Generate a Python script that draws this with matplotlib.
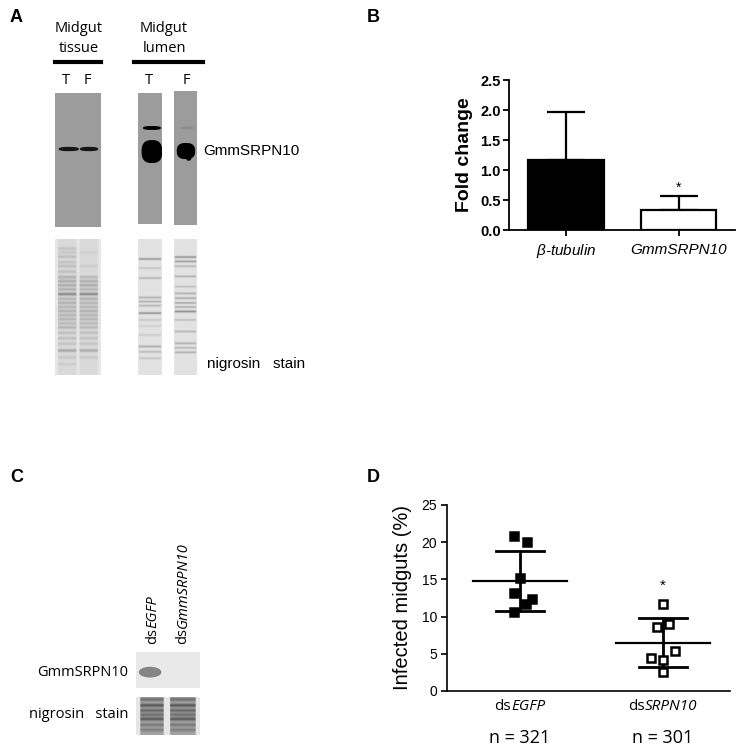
import matplotlib
matplotlib.use("Agg")
import matplotlib.pyplot as plt
from matplotlib.patches import Ellipse, Polygon
from matplotlib.lines import Line2D
import numpy as np

# ---------------- data ----------------
# Panel B: qPCR fold change
b_categories = [r"$\mathit{\beta}$-tubulin", "GmmSRPN10"]
b_values = [1.17, 0.33]
b_err_upper = [0.80, 0.24]
b_colors = ["black", "white"]
b_ticks = [0.0, 0.5, 1.0, 1.5, 2.0, 2.5]

# Panel D: infected midguts (%)
d_group_prefix = ["ds", "ds"]
d_group_names = ["EGFP", "SRPN10"]
d_counts = ["n = 321", "n = 301"]
d_egfp = [20.8, 20.0, 15.2, 13.2, 11.7, 12.4, 10.6]
d_egfp_jitter = [-0.04, 0.05, 0.0, -0.04, 0.04, 0.085, -0.04]
d_srpn = [11.7, 8.6, 9.0, 5.4, 4.4, 4.2, 2.5]
d_srpn_jitter = [0.0, -0.04, 0.04, 0.085, -0.08, 0.0, 0.0]
d_means = [14.8, 6.5]
d_sd_upper = [18.8, 9.8]
d_sd_lower = [10.8, 3.2]
d_ticks = [0, 5, 10, 15, 20, 25]

# Panel A: western blot bands (lane centre, position, width, height)
a_tissue_bands = [(0.30, 0.418, 0.44, 0.032), (0.74, 0.418, 0.40, 0.032)]
a_lumenT_bands = [(0.58, 0.267, 0.75, 0.03), (0.58, 0.447, 0.86, 0.175)]
a_lumenF_bands = [(0.52, 0.448, 0.80, 0.12), (0.64, 0.50, 0.22, 0.04)]
a_lumenF_faint = [(0.55, 0.276, 0.5, 0.012)]

# Panel A: nigrosin stain bands (position, intensity)
nig_tissue_T = [(0.07, 0.25), (0.10, 0.2), (0.13, 0.3), (0.17, 0.25), (0.20, 0.3), (0.24, 0.3),
                (0.28, 0.45), (0.31, 0.5), (0.34, 0.5), (0.37, 0.45), (0.405, 0.85), (0.44, 0.4),
                (0.47, 0.45), (0.50, 0.4), (0.53, 0.45), (0.56, 0.4), (0.59, 0.4), (0.62, 0.35),
                (0.65, 0.4), (0.69, 0.3), (0.73, 0.3), (0.77, 0.25), (0.82, 0.55), (0.87, 0.2), (0.92, 0.15)]
nig_tissue_F = [(0.10, 0.1), (0.20, 0.15), (0.28, 0.35), (0.31, 0.45), (0.34, 0.5), (0.37, 0.4),
                (0.405, 0.85), (0.44, 0.45), (0.47, 0.4), (0.50, 0.4), (0.53, 0.45), (0.56, 0.4),
                (0.59, 0.4), (0.62, 0.35), (0.65, 0.35), (0.69, 0.3), (0.73, 0.3), (0.77, 0.25),
                (0.82, 0.5), (0.87, 0.2)]
nig_lumen_T = [(0.147, 0.75), (0.214, 0.3), (0.287, 0.45), (0.43, 0.5), (0.46, 0.5), (0.49, 0.45),
               (0.545, 0.8), (0.595, 0.3), (0.64, 0.2), (0.705, 0.25), (0.79, 0.55), (0.83, 0.4), (0.877, 0.3)]
nig_lumen_F = [(0.133, 0.8), (0.165, 0.7), (0.20, 0.45), (0.275, 0.5), (0.35, 0.35), (0.40, 0.5),
               (0.435, 0.55), (0.47, 0.55), (0.50, 0.5), (0.533, 0.85), (0.595, 0.35), (0.68, 0.45),
               (0.767, 0.5), (0.80, 0.45), (0.833, 0.5)]

# Panel C: western + nigrosin
c_lane_prefix = ["ds", "ds"]
c_lane_names = ["EGFP", "GmmSRPN10"]
c_band = [(0.22, 0.56, 0.33, 0.26)]
c_nig_bands = [(0.09, 0.6), (0.24, 0.9), (0.37, 0.7), (0.48, 0.6), (0.59, 0.85), (0.74, 0.5), (0.87, 0.4)]
c_nig_lane_x = [(0.06, 0.44), (0.53, 0.94)]

# ---------------- figure ----------------
W, H = 740, 746
plt.rcParams["mathtext.fontset"] = "custom"
plt.rcParams["mathtext.rm"] = "Liberation Sans"
plt.rcParams["mathtext.it"] = "Liberation Sans:italic"
plt.rcParams["mathtext.bf"] = "Liberation Sans:bold"
plt.rcParams["font.family"] = ["Liberation Sans", "DejaVu Sans"]

fig = plt.figure(figsize=(W / 100, H / 100), dpi=100)
fig.patch.set_facecolor("white")


def px_axes(x0, y0, x1, y1):
    return fig.add_axes([x0 / W, 1 - y1 / H, (x1 - x0) / W, (y1 - y0) / H])


def T(x, y, s, **kw):
    return fig.text(x / W, 1 - y / H, s, **kw)


def hline_px(x0, x1, y, lw=3):
    fig.add_artist(Line2D([x0 / W, x1 / W], [1 - y / H, 1 - y / H], color="black", lw=lw,
                          transform=fig.transFigure))


def strip(box, face):
    ax = px_axes(*box)
    ax.set_xlim(0, 1)
    ax.set_ylim(1, 0)
    ax.set_facecolor(face)
    ax.set_xticks([])
    ax.set_yticks([])
    for s in ax.spines.values():
        s.set_visible(False)
    return ax


def blob(ax, cx, cy, w, h, color, n=3.5):
    """Rounded band shape (superellipse)."""
    t = np.linspace(0, 2 * np.pi, 120)
    c, s = np.cos(t), np.sin(t)
    xs = cx + w / 2 * np.sign(c) * np.abs(c) ** (2 / n)
    ys = cy + h / 2 * np.sign(s) * np.abs(s) ** (2 / n)
    ax.add_patch(Polygon(np.column_stack([xs, ys]), closed=True, color=color, lw=0))


def mixed_text(x, y, prefix, name, rotation=0, **kw):
    """Draw 'prefix' upright followed by 'name' in italic, as one visual label."""
    r = fig.canvas.get_renderer()
    if rotation == 0:
        t1 = T(x, y, prefix, ha="left", va="center", **kw)
        t2 = T(x, y, name, ha="left", va="center", style="italic", **kw)
        w1 = t1.get_window_extent(r).width
        w2 = t2.get_window_extent(r).width
        x0 = x - (w1 + w2) / 2
        t1.set_position((x0 / W, 1 - y / H))
        t2.set_position(((x0 + w1) / W, 1 - y / H))
    else:
        t1 = T(x, y, prefix, ha="center", va="bottom", rotation=90, **kw)
        h1 = t1.get_window_extent(r).height
        T(x, y - h1, name, ha="center", va="bottom", rotation=90, style="italic", **kw)


# Panel letters
for lx, ly, lab in [(10, 18, "A"), (367, 18, "B"), (10, 478, "C"), (367, 478, "D")]:
    T(lx, ly, lab, fontsize=13, fontweight="bold", ha="left", va="center")

# ---------------- Panel A ----------------
hfam = ["Open Sans", "DejaVu Sans"]
T(79, 29, "Midgut", fontsize=10.5, ha="center", va="center", family=hfam)
T(79, 49, "tissue", fontsize=10.5, ha="center", va="center", family=hfam)
T(164, 28, "Midgut", fontsize=10.5, ha="center", va="center", family=hfam)
T(164, 48, "lumen", fontsize=10.5, ha="center", va="center", family=hfam)
hline_px(55, 101, 62)
hline_px(134, 203, 62)
for x, s in [(66, "T"), (87, "F"), (149, "T"), (186, "F")]:
    T(x, 80, s, fontsize=10.5, ha="center", va="center", family=hfam)

wb_gray = "#9c9c9c"
ax = strip((55, 93, 101, 227), wb_gray)
for cx, cy, w, h in a_tissue_bands:
    blob(ax, cx, cy, w, h, "#151515", n=2.5)
ax = strip((138, 93, 162, 224), wb_gray)
for cx, cy, w, h in a_lumenT_bands:
    blob(ax, cx, cy, w, h, "black", n=2.6)
ax = strip((174, 91, 197, 225), wb_gray)
for cx, cy, w, h in a_lumenF_faint:
    ax.add_patch(Ellipse((cx, cy), w, h, color="#8c8c8c"))
for cx, cy, w, h in a_lumenF_bands:
    blob(ax, cx, cy, w, h, "black", n=2.6)
T(203, 151, "GmmSRPN10", fontsize=11, ha="left", va="center")


def lane_image(ax, lanes, bg, smear, sigma=0.006, dark=0.55):
    """Render nigrosin lanes: lanes = list of (x0, x1, bands)."""
    ny, nx = 300, 60
    yy = (np.arange(ny) + 0.5) / ny
    xx = (np.arange(nx) + 0.5) / nx
    img = np.full((ny, nx), bg)
    for x0, x1, bands in lanes:
        prof = np.zeros(ny)
        for y, a in bands:
            prof += a * np.exp(-0.5 * ((yy - y) / sigma) ** 2)
        prof = smear + dark * np.clip(prof, 0, 1.2)
        mask = ((xx >= x0) & (xx <= x1)).astype(float)
        img -= np.outer(prof, mask) * 0.75
    ax.imshow(np.clip(img, 0, 1), cmap="gray", vmin=0, vmax=1, extent=(0, 1, 1, 0),
              aspect="auto", interpolation="bilinear")


nig_bg = 0.90
ax = strip((55, 239, 101, 375), "#e6e6e6")
lane_image(ax, [(0.06, 0.47, nig_tissue_T), (0.53, 0.94, nig_tissue_F)], nig_bg, 0.06, sigma=0.008, dark=0.5)
ax = strip((138, 239, 162, 375), "#e6e6e6")
lane_image(ax, [(0.04, 0.96, nig_lumen_T)], nig_bg, 0.02, sigma=0.005)
ax = strip((174, 239, 197, 375), "#e6e6e6")
lane_image(ax, [(0.04, 0.96, nig_lumen_F)], nig_bg, 0.02, sigma=0.005)
T(207, 364, "nigrosin   stain", fontsize=11, ha="left", va="center")

# ---------------- Panel B ----------------
axb = px_axes(509, 80, 735, 230)
xb = np.arange(len(b_values))
axb.bar(xb, b_values, width=0.675, color=b_colors, edgecolor="black", linewidth=1.6, zorder=2)
axb.errorbar(xb, b_values, yerr=[[0, 0], b_err_upper], fmt="none", ecolor="black",
             elinewidth=1.6, capsize=13.5, capthick=1.6, zorder=1)
axb.text(xb[1], b_values[1] + b_err_upper[1] + 0.02, "*", ha="center", va="bottom", fontsize=10)
axb.set_xlim(-0.507, 1.502)
axb.set_ylim(0, 2.5)
axb.set_yticks(b_ticks)
axb.set_yticklabels([f"{t:.1f}" for t in b_ticks], fontsize=10.5, fontweight="bold")
axb.set_xticks(xb)
axb.set_xticklabels(b_categories, fontsize=11, style="italic")
axb.tick_params(axis="y", length=4, width=1.3, direction="out", pad=2)
axb.tick_params(axis="x", length=4, width=1.3, direction="out", pad=5)
axb.spines["top"].set_visible(False)
axb.spines["right"].set_visible(False)
axb.spines["left"].set_linewidth(1.3)
axb.spines["bottom"].set_linewidth(1.3)
axb.set_ylabel("Fold change", fontsize=14, fontweight="bold", labelpad=5)

# ---------------- Panel C ----------------
ax = strip((136, 652, 200, 688), "#e9e9e9")
for cx, cy, w, h in c_band:
    ax.add_patch(Ellipse((cx, cy), w, h, color="#858585"))
ax = strip((136, 697, 200, 735), "#e6e6e6")
lane_image(ax, [(x0, x1, c_nig_bands) for x0, x1 in c_nig_lane_x], 0.90, 0.35, sigma=0.03, dark=0.45)
for x, p, n in [(153, c_lane_prefix[0], c_lane_names[0]), (183, c_lane_prefix[1], c_lane_names[1])]:
    mixed_text(x, 644, p, n, rotation=90, fontsize=10.5, family=hfam)
T(128, 672, "GmmSRPN10", fontsize=10.5, ha="right", va="center", family=hfam)
T(128, 714, "nigrosin   stain", fontsize=10.5, ha="right", va="center", family=hfam)

# ---------------- Panel D ----------------
axd = px_axes(447, 505, 730, 691)
for i, (vals, jit, filled) in enumerate([(d_egfp, d_egfp_jitter, True), (d_srpn, d_srpn_jitter, False)]):
    xs = i + np.array(jit)
    axd.plot(xs, vals, "s", ms=6, mec="black", mew=1.8,
             mfc="black" if filled else "white", zorder=3, clip_on=False)
    axd.plot([i - 0.33, i + 0.33], [d_means[i]] * 2, color="black", lw=1.6, zorder=2)
    axd.plot([i, i], [d_sd_lower[i], d_sd_upper[i]], color="black", lw=2, zorder=2)
    for yv in (d_sd_lower[i], d_sd_upper[i]):
        axd.plot([i - 0.165, i + 0.165], [yv, yv], color="black", lw=2, zorder=2)
axd.text(1, 13.2, "*", ha="center", va="bottom", fontsize=11)
axd.set_xlim(-0.51, 1.469)
axd.set_ylim(0, 25)
axd.set_yticks(d_ticks)
axd.set_yticklabels([str(t) for t in d_ticks], fontsize=10)
axd.set_xticks([])
axd.tick_params(axis="y", length=4, width=1.2, pad=3)
axd.spines["top"].set_visible(False)
axd.spines["right"].set_visible(False)
axd.spines["left"].set_linewidth(1.2)
axd.spines["bottom"].set_linewidth(1.2)
axd.set_ylabel("Infected midguts (%)", fontsize=14.5, labelpad=7)
for i in range(2):
    xpix = 447 + (i - (-0.51)) / (1.469 + 0.51) * (730 - 447)
    mixed_text(xpix, 706, d_group_prefix[i], d_group_names[i], fontsize=11, family=hfam)
    T(xpix, 738, d_counts[i], fontsize=13, ha="center", va="center", family=hfam)

fig.savefig("out.png", dpi=100, facecolor="white")
